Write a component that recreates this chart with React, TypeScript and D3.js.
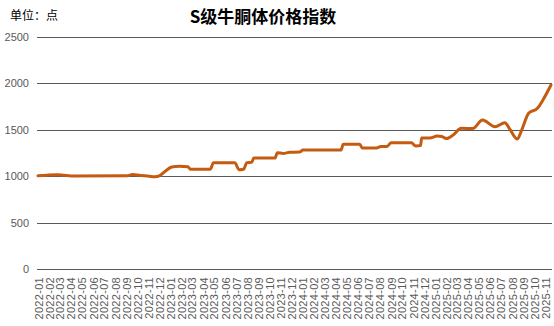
import React from "react";
import * as d3 from "d3";

const dates = [
  "2022-01-01","2022-01-25","2022-02-22","2022-03-13","2022-04-01","2022-09-01","2022-09-16","2022-10-04",
  "2022-11-01","2022-11-16","2022-11-28","2022-12-16","2023-01-01","2023-01-22","2023-02-14","2023-02-21",
  "2023-04-16","2023-04-25","2023-06-22","2023-07-04","2023-07-16","2023-07-25","2023-08-07","2023-08-13",
  "2023-10-10","2023-10-16","2023-11-01","2023-11-19","2023-12-16","2023-12-25","2024-04-07","2024-04-13",
  "2024-05-28","2024-06-04","2024-07-13","2024-07-25","2024-08-10","2024-08-22","2024-10-16","2024-10-28",
  "2024-11-10","2024-11-13","2024-12-10","2024-12-25","2025-01-07","2025-01-19","2025-02-07","2025-03-01",
  "2025-04-01","2025-04-28","2025-06-01","2025-06-28","2025-07-13","2025-08-01","2025-08-13","2025-09-01",
  "2025-09-25","2025-10-10","2025-11-01"
];
const values = [
  1005,1012,1017,1010,1003,1005,1018,1012,
  1000,995,1005,1060,1100,1108,1103,1075,
  1075,1146,1146,1070,1075,1146,1150,1195,
  1195,1253,1245,1258,1260,1282,1282,1345,
  1345,1305,1305,1320,1320,1360,1360,1325,
  1330,1410,1415,1432,1428,1405,1443,1515,
  1512,1605,1533,1576,1497,1400,1497,1677,
  1730,1820,1981
];
const yTicks = [0, 500, 1000, 1500, 2000, 2500];
const monthLabels: string[] = [];
for (let y = 2022; y <= 2025; y++) {
  for (let m = 1; m <= 12; m++) {
    if (y === 2025 && m > 11) break;
    monthLabels.push(`${y}-${String(m).padStart(2, "0")}`);
  }
}

const W = 554, H = 326;
const left = 38, right = 551, top = 36.7, bottom = 269.3;

export default function App() {
  const parse = d3.timeParse("%Y-%m-%d");
  const parseM = d3.timeParse("%Y-%m");
  const x = d3.scaleTime()
    .domain([parseM(monthLabels[0])!, parseM(monthLabels[monthLabels.length - 1])!])
    .range([left, right]);
  const y = d3.scaleLinear().domain([0, 2500]).range([bottom, top]);
  const pts = dates.map((d, i) => [x(parse(d)!), y(values[i])] as [number, number]);
  const line = d3.line().curve(d3.curveMonotoneX)(pts) || "";
  const font = "'Liberation Sans', Arial, sans-serif";
  const labelX = d3.scaleLinear().domain([left, right]).range([39, 546]);
  return (
    <svg width={W} height={H} style={{ position: "absolute", left: 0, top: 0, background: "#fff" }}>
      <text x={10} y={20} fontSize={12} fontFamily="'Noto Sans CJK SC', sans-serif" fill="#000">单位：点</text>
      <text x={263} y={23} textAnchor="middle" fontSize={17} fontWeight="bold" fontFamily="'Noto Sans CJK SC', sans-serif" fill="#000">S级牛胴体价格指数</text>
      {yTicks.map(t => (
        <g key={t}>
          <line x1={37} x2={552} y1={Math.round(y(t)) + 0.5} y2={Math.round(y(t)) + 0.5} stroke="#595959" strokeWidth={1} />
          <text x={29} y={y(t)} dy="0.35em" textAnchor="end" fontSize={11} fontFamily={font} fill="#595959">{t}</text>
        </g>
      ))}
      {monthLabels.map(m => {
        const xp = labelX(x(parseM(m)!));
        return (
          <text key={m} transform={`translate(${xp},277) rotate(-90)`} dy="0.35em" textAnchor="end"
            fontSize={11} letterSpacing={0.3} fontFamily={font} fill="#595959">{m}</text>
        );
      })}
      <path d={line} fill="none" stroke="#C55A11" strokeWidth={3} strokeLinejoin="round" strokeLinecap="round" />
    </svg>
  );
}
